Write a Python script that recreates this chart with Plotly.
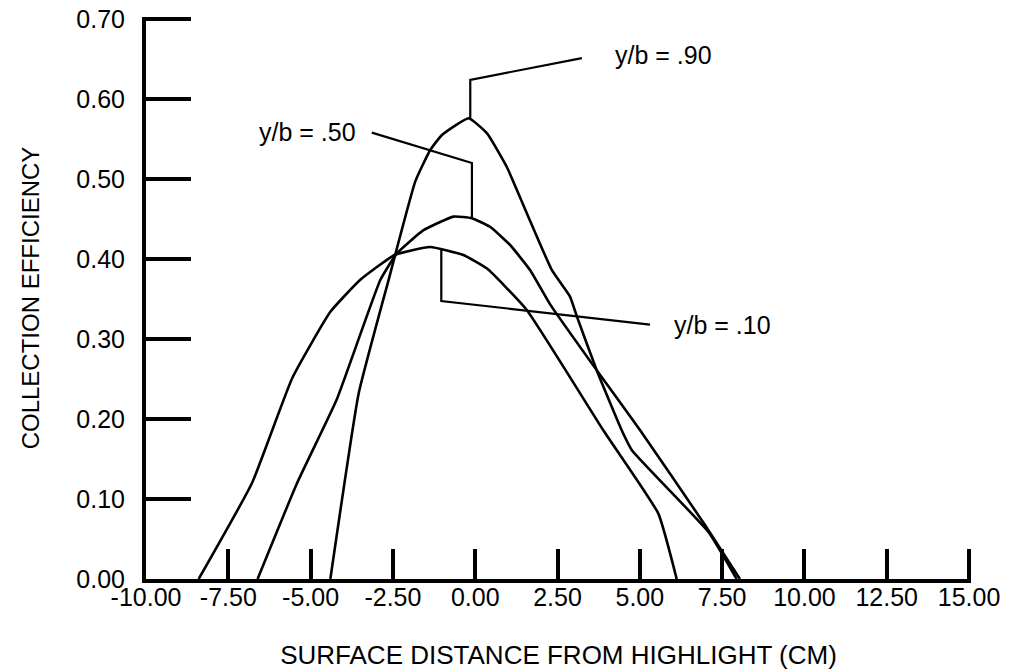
import plotly.graph_objects as go

# ---- data ----
x_tick_vals = [-10, -7.5, -5, -2.5, 0, 2.5, 5, 7.5, 10, 12.5, 15]
x_tick_text = ["-10.00", "-7.50", "-5.00", "-2.50", "0.00", "2.50", "5.00", "7.50", "10.00", "12.50", "15.00"]
y_tick_vals = [0, 0.1, 0.2, 0.3, 0.4, 0.5, 0.6, 0.7]
y_tick_text = ["0.00", "0.10", "0.20", "0.30", "0.40", "0.50", "0.60", "0.70"]

x_b10 = [-8.40, -6.78, -5.56, -4.40, -3.49, -2.45, -1.37, -0.36, 0.36, 1.57, 3.89, 5.56, 6.12]
y_b10 = [0.0, 0.120, 0.251, 0.334, 0.374, 0.405, 0.415, 0.405, 0.388, 0.336, 0.186, 0.082, 0.0]

x_b50 = [-6.61, -5.41, -4.20, -2.88, -2.38, -1.57, -0.66, -0.10, 0.46, 1.06, 1.67, 2.28, 3.69, 5.01, 6.98, 7.54, 8.04]
y_b50 = [0.0, 0.120, 0.225, 0.374, 0.407, 0.436, 0.453, 0.451, 0.440, 0.4175, 0.386, 0.343, 0.261, 0.186, 0.0675, 0.032, 0.0]

x_b90 = [-4.40, -3.54, -2.63, -1.82, -1.37, -1.01, -0.20, 0.36, 0.96, 1.57, 2.33, 2.88, 3.09, 3.69, 4.45, 4.76, 7.08, 7.94]
y_b90 = [0.0, 0.232, 0.374, 0.497, 0.536, 0.555, 0.576, 0.557, 0.515, 0.457, 0.386, 0.353, 0.328, 0.261, 0.186, 0.161, 0.059, 0.0]

# label texts, label anchor points and leader-line vertices
labels = ["y/b = .90", "y/b = .50", "y/b = .10"]
label_x = [4.20, -6.63, 5.97]
label_y = [0.655, 0.559, 0.3175]
leader_x = [[3.24, -0.15, -0.15], [-3.14, -0.10, -0.10], [-1.03, -1.03, 5.31]]
leader_y = [[0.651, 0.624, 0.576], [0.558, 0.520, 0.451], [0.413, 0.3475, 0.318]]

FONT = "Liberation Sans, Arial, Helvetica, sans-serif"

fig = go.Figure()
for xs, ys in [(x_b10, y_b10), (x_b50, y_b50), (x_b90, y_b90)]:
    fig.add_trace(go.Scatter(x=xs, y=ys, mode="lines",
                             line=dict(color="black", width=2.6, shape="spline", smoothing=0.4),
                             showlegend=False, hoverinfo="skip"))
for lx, ly in zip(leader_x, leader_y):
    fig.add_trace(go.Scatter(x=lx, y=ly, mode="lines",
                             line=dict(color="black", width=2.2),
                             showlegend=False, hoverinfo="skip"))

for t, ax_, ay_ in zip(labels, label_x, label_y):
    fig.add_annotation(x=ax_, y=ay_, text=t, showarrow=False, xanchor="left", yanchor="middle",
                       font=dict(family=FONT, size=25, color="black"))

# the page body has an 8px margin, so the figure is 8px smaller and shifted
fig.update_layout(
    width=1001, height=662,
    margin=dict(l=138, r=38, t=9, b=91, autoexpand=False),
    paper_bgcolor="white", plot_bgcolor="white",
    font=dict(family=FONT, color="black"),
)
fig.update_xaxes(range=[-10, 15.06], tickvals=x_tick_vals, ticktext=x_tick_text,
                 showgrid=False, zeroline=False, showline=True, linecolor="black", linewidth=4,
                 ticks="inside", ticklen=30, tickwidth=4, tickcolor="black",
                 tickfont=dict(family=FONT, size=25, color="black"),
                 ticklabelstandoff=-7, ticklabeloverflow="allow",
                 title=dict(text="SURFACE DISTANCE FROM HIGHLIGHT (CM)",
                            font=dict(family=FONT, size=26, color="black"), standoff=45))
fig.update_yaxes(range=[0, 0.7025], tickvals=y_tick_vals, ticktext=y_tick_text,
                 showgrid=False, zeroline=False, showline=True, linecolor="black", linewidth=4,
                 ticks="inside", ticklen=45, tickwidth=4, tickcolor="black",
                 tickfont=dict(family=FONT, size=25, color="black"),
                 ticklabelstandoff=12, ticklabeloverflow="allow",
                 title=dict(text="COLLECTION EFFICIENCY",
                            font=dict(family=FONT, size=24, color="black"), standoff=31))

fig.write_html("out.html")
